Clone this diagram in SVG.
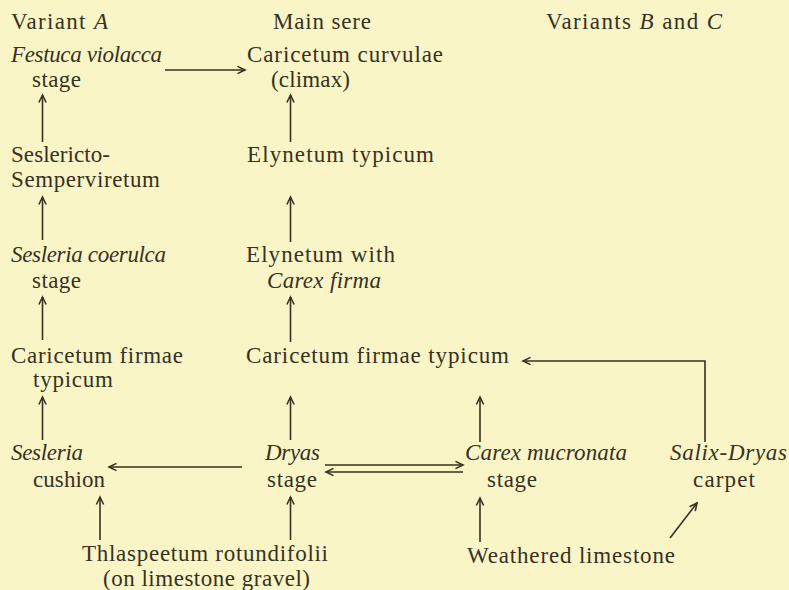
<svg xmlns="http://www.w3.org/2000/svg" width="789" height="590" viewBox="0 0 789 590">
<defs>
<style>
.c line, .c polyline { stroke: #36321f; stroke-width: 1.6; fill: none; }
</style>
<marker id="ah" markerUnits="userSpaceOnUse" markerWidth="14" markerHeight="12" viewBox="-9 -6 10 12" refX="0" refY="0" orient="auto">
<path d="M-7.5,-3.6 L0,0 L-7.5,3.6" fill="none" stroke="#36321f" stroke-width="1.6"/>
</marker>
</defs>
<rect width="789" height="590" fill="#faf5c7"/>
<g font-family="Liberation Serif" font-size="23" fill="#36321f">
<g id="headers">
<text x="11" y="29" textLength="97" lengthAdjust="spacing">Variant <tspan font-style="italic">A</tspan></text>
<text x="273" y="29" textLength="98" lengthAdjust="spacing">Main sere</text>
<text x="546" y="29" textLength="176" lengthAdjust="spacing">Variants <tspan font-style="italic">B</tspan> and <tspan font-style="italic">C</tspan></text>
</g>
<g id="festuca"><text font-style="italic" x="11" y="62" textLength="151" lengthAdjust="spacing">Festuca violacca</text><text x="32" y="87" textLength="49" lengthAdjust="spacing">stage</text></g>
<g id="curvulae"><text x="247" y="62" textLength="196" lengthAdjust="spacing">Caricetum curvulae</text><text x="271" y="87" textLength="79" lengthAdjust="spacing">(climax)</text></g>
<g id="seslericto"><text x="11" y="162" textLength="99" lengthAdjust="spacing">Seslericto-</text><text x="11" y="187" textLength="149" lengthAdjust="spacing">Semperviretum</text></g>
<g id="elynetum-typicum"><text x="247" y="162" textLength="187" lengthAdjust="spacing">Elynetum typicum</text></g>
<g id="sesleria-coerulca"><text font-style="italic" x="11" y="262" textLength="155" lengthAdjust="spacing">Sesleria coerulca</text><text x="32" y="288" textLength="49" lengthAdjust="spacing">stage</text></g>
<g id="elynetum-firma"><text x="246" y="262" textLength="149" lengthAdjust="spacing">Elynetum with</text><text font-style="italic" x="267" y="288" textLength="114" lengthAdjust="spacing">Carex firma</text></g>
<g id="firmae-a"><text x="11" y="363" textLength="172" lengthAdjust="spacing">Caricetum firmae</text><text x="33" y="387" textLength="80" lengthAdjust="spacing">typicum</text></g>
<g id="firmae-main"><text x="246" y="363" textLength="263" lengthAdjust="spacing">Caricetum firmae typicum</text></g>
<g id="sesleria-cushion"><text font-style="italic" x="11" y="460" textLength="72" lengthAdjust="spacing">Sesleria</text><text x="33" y="487" textLength="72" lengthAdjust="spacing">cushion</text></g>
<g id="dryas"><text font-style="italic" x="265" y="460" textLength="55" lengthAdjust="spacing">Dryas</text><text x="267" y="487" textLength="50" lengthAdjust="spacing">stage</text></g>
<g id="mucronata"><text font-style="italic" x="465" y="460" textLength="162" lengthAdjust="spacing">Carex mucronata</text><text x="487" y="487" textLength="50" lengthAdjust="spacing">stage</text></g>
<g id="salix"><text font-style="italic" x="670" y="460" textLength="117" lengthAdjust="spacing">Salix-Dryas</text><text x="693" y="487" textLength="62" lengthAdjust="spacing">carpet</text></g>
<g id="thlaspeetum"><text x="82" y="561" textLength="246" lengthAdjust="spacing">Thlaspeetum rotundifolii</text><text x="103" y="586" textLength="207" lengthAdjust="spacing">(on limestone gravel)</text></g>
<g id="limestone"><text x="467" y="563" textLength="208" lengthAdjust="spacing">Weathered limestone</text></g>
</g>
<g id="connectors" class="c">
<line x1="165" y1="70" x2="245" y2="70" marker-end="url(#ah)"/>
<line x1="42.5" y1="142" x2="42.5" y2="95" marker-end="url(#ah)"/>
<line x1="290.5" y1="142" x2="290.5" y2="95" marker-end="url(#ah)"/>
<line x1="42.5" y1="240" x2="42.5" y2="197" marker-end="url(#ah)"/>
<line x1="290.5" y1="242" x2="290.5" y2="197" marker-end="url(#ah)"/>
<line x1="42.5" y1="340" x2="42.5" y2="297" marker-end="url(#ah)"/>
<line x1="290.5" y1="342" x2="290.5" y2="297" marker-end="url(#ah)"/>
<line x1="42.5" y1="440" x2="42.5" y2="397" marker-end="url(#ah)"/>
<line x1="290.5" y1="440" x2="290.5" y2="397" marker-end="url(#ah)"/>
<line x1="480" y1="442" x2="480" y2="397" marker-end="url(#ah)"/>
<polyline points="705,442 705,361 523,361" marker-end="url(#ah)"/>
<line x1="242" y1="467" x2="109" y2="467" marker-end="url(#ah)"/>
<line x1="325" y1="465" x2="463" y2="465" marker-end="url(#ah)"/>
<line x1="463" y1="472" x2="326" y2="472" marker-end="url(#ah)"/>
<line x1="100" y1="540" x2="100" y2="497" marker-end="url(#ah)"/>
<line x1="290.5" y1="540" x2="290.5" y2="497" marker-end="url(#ah)"/>
<line x1="480" y1="542" x2="480" y2="498" marker-end="url(#ah)"/>
<line x1="670" y1="538" x2="697" y2="503" marker-end="url(#ah)"/>
</g>
</svg>
